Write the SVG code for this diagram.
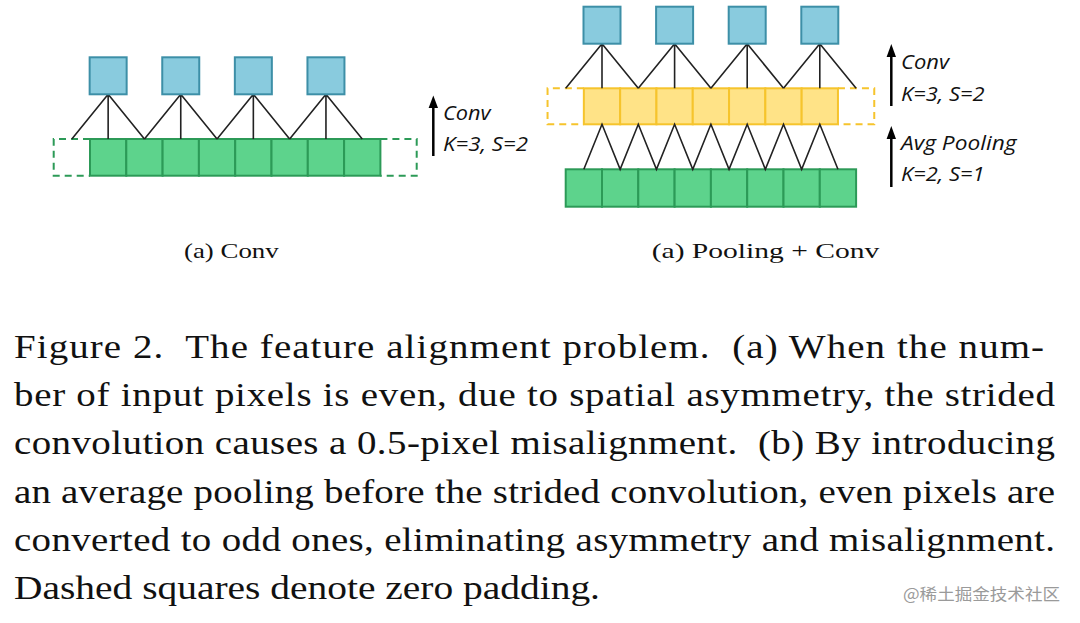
<svg xmlns="http://www.w3.org/2000/svg" width="1080" height="623" viewBox="0 0 1080 623">
<style>
.blue{fill:#89CBDE;stroke:#3D8FA7;stroke-width:2}
.green{fill:#5DD38C;stroke:#2C9A57;stroke-width:2}
.yellow{fill:#FFE387;stroke:#F6C42C;stroke-width:2}
.gdash{fill:none;stroke:#2C9A57;stroke-width:2;stroke-dasharray:7 5}
.ydash{fill:none;stroke:#F6C42C;stroke-width:2;stroke-dasharray:7 5}
.ln{fill:none;stroke:#222;stroke-width:1.6}
.arr{stroke:#000;stroke-width:2.5}
.head{fill:#000}
.lab{font-family:"Open Sans","Liberation Sans",sans-serif;font-style:italic;font-size:20px;fill:#111}
.cap{font-family:"Liberation Serif","Times New Roman",serif;font-size:22px;fill:#111}
.body{font-family:"Liberation Serif","Times New Roman",serif;font-size:33px;fill:#111;white-space:pre}
.wm{font-family:"Noto Sans CJK SC","Liberation Sans",sans-serif;font-size:16px;fill:#9a9a9a}
</style>
<rect width="1080" height="623" fill="#fff"/>

<!-- Left diagram: Conv -->
<g id="left-padding">
<path class="gdash" d="M90,139 H53.7 V175.7 H90"/>
<path class="gdash" d="M380.4,139 H416.7 V175.7 H380.4"/>
</g>
<g id="left-input">
<rect class="green" x="90" y="139" width="36.3" height="36.7"/>
<rect class="green" x="126.3" y="139" width="36.3" height="36.7"/>
<rect class="green" x="162.6" y="139" width="36.3" height="36.7"/>
<rect class="green" x="198.9" y="139" width="36.3" height="36.7"/>
<rect class="green" x="235.2" y="139" width="36.3" height="36.7"/>
<rect class="green" x="271.5" y="139" width="36.3" height="36.7"/>
<rect class="green" x="307.8" y="139" width="36.3" height="36.7"/>
<rect class="green" x="344.1" y="139" width="36.3" height="36.7"/>
</g>
<g id="left-connectors">
<path class="ln" d="M71.85,139 L108.15,94.3 L144.45,139 M108.15,94.3 V139"/>
<path class="ln" d="M144.45,139 L180.75,94.3 L217.05,139 M180.75,94.3 V139"/>
<path class="ln" d="M217.05,139 L253.35,94.3 L289.65,139 M253.35,94.3 V139"/>
<path class="ln" d="M289.65,139 L325.95,94.3 L362.25,139 M325.95,94.3 V139"/>
</g>
<g id="left-output">
<rect class="blue" x="89.65" y="57.3" width="37" height="37"/>
<rect class="blue" x="162.25" y="57.3" width="37" height="37"/>
<rect class="blue" x="234.85" y="57.3" width="37" height="37"/>
<rect class="blue" x="307.45" y="57.3" width="37" height="37"/>
</g>
<g id="left-label">
<line class="arr" x1="433.3" y1="156" x2="433.3" y2="106"/>
<polygon class="head" points="433.3,95.5 428.6,108 438,108"/>
<text class="lab" x="443" y="120" textLength="47.5" lengthAdjust="spacingAndGlyphs">Conv</text>
<text class="lab" x="443" y="151" textLength="85" lengthAdjust="spacingAndGlyphs">K=3, S=2</text>
</g>

<!-- Right diagram: Pooling + Conv -->
<g id="right-input">
<rect class="green" x="565.7" y="169.3" width="36.3" height="37.4"/>
<rect class="green" x="602" y="169.3" width="36.3" height="37.4"/>
<rect class="green" x="638.3" y="169.3" width="36.3" height="37.4"/>
<rect class="green" x="674.6" y="169.3" width="36.3" height="37.4"/>
<rect class="green" x="710.9" y="169.3" width="36.3" height="37.4"/>
<rect class="green" x="747.2" y="169.3" width="36.3" height="37.4"/>
<rect class="green" x="783.5" y="169.3" width="36.3" height="37.4"/>
<rect class="green" x="819.8" y="169.3" width="36.3" height="37.4"/>
</g>
<g id="right-padding">
<path class="ydash" d="M583.85,88.3 H547.55 V124.3 H583.85"/>
<path class="ydash" d="M837.95,88.3 H874.25 V124.3 H837.95"/>
</g>
<g id="right-pooled">
<rect class="yellow" x="583.85" y="88.3" width="36.3" height="36"/>
<rect class="yellow" x="620.15" y="88.3" width="36.3" height="36"/>
<rect class="yellow" x="656.45" y="88.3" width="36.3" height="36"/>
<rect class="yellow" x="692.75" y="88.3" width="36.3" height="36"/>
<rect class="yellow" x="729.05" y="88.3" width="36.3" height="36"/>
<rect class="yellow" x="765.35" y="88.3" width="36.3" height="36"/>
<rect class="yellow" x="801.65" y="88.3" width="36.3" height="36"/>
</g>
<g id="right-connectors">
<polyline class="ln" points="583.85,169.3 602,124.3 620.15,169.3 638.3,124.3 656.45,169.3 674.6,124.3 692.75,169.3 710.9,124.3 729.05,169.3 747.2,124.3 765.35,169.3 783.5,124.3 801.65,169.3 819.8,124.3 837.95,169.3"/>
<path class="ln" d="M565.7,88.3 L602,43.7 L638.3,88.3 M602,43.7 V88.3"/>
<path class="ln" d="M638.3,88.3 L674.6,43.7 L710.9,88.3 M674.6,43.7 V88.3"/>
<path class="ln" d="M710.9,88.3 L747.2,43.7 L783.5,88.3 M747.2,43.7 V88.3"/>
<path class="ln" d="M783.5,88.3 L819.8,43.7 L856.1,88.3 M819.8,43.7 V88.3"/>
</g>
<g id="right-output">
<rect class="blue" x="583.5" y="6.7" width="37" height="37"/>
<rect class="blue" x="656.1" y="6.7" width="37" height="37"/>
<rect class="blue" x="728.7" y="6.7" width="37" height="37"/>
<rect class="blue" x="801.3" y="6.7" width="37" height="37"/>
</g>
<g id="right-labels">
<line class="arr" x1="891.3" y1="106" x2="891.3" y2="55"/>
<polygon class="head" points="891.3,44 886.6,57 896,57"/>
<text class="lab" x="901" y="69" textLength="48" lengthAdjust="spacingAndGlyphs">Conv</text>
<text class="lab" x="901" y="101" textLength="83.5" lengthAdjust="spacingAndGlyphs">K=3, S=2</text>
<line class="arr" x1="891.3" y1="187" x2="891.3" y2="137"/>
<polygon class="head" points="891.3,126 886.6,139 896,139"/>
<text class="lab" x="901" y="150" textLength="115.5" lengthAdjust="spacingAndGlyphs">Avg Pooling</text>
<text class="lab" x="901" y="181" textLength="83.5" lengthAdjust="spacingAndGlyphs">K=2, S=1</text>
</g>

<g id="captions">
<text class="cap" x="184" y="258" textLength="94.7" lengthAdjust="spacingAndGlyphs">(a) Conv</text>
<text class="cap" x="651.7" y="258" textLength="227.6" lengthAdjust="spacingAndGlyphs">(a) Pooling + Conv</text>
</g>

<g id="figure-text" transform="scale(1.18 1)">
<text class="body" x="11.86" y="358" textLength="872.9" lengthAdjust="spacing">Figure 2.  The feature alignment problem.  (a) When the num-</text>
<text class="body" x="11.86" y="406" textLength="882.2" lengthAdjust="spacing">ber of input pixels is even, due to spatial asymmetry, the strided</text>
<text class="body" x="11.86" y="454.5" textLength="882.2" lengthAdjust="spacing">convolution causes a 0.5-pixel misalignment.  (b) By introducing</text>
<text class="body" x="11.86" y="502.7" textLength="882.2" lengthAdjust="spacing">an average pooling before the strided convolution, even pixels are</text>
<text class="body" x="11.86" y="551" textLength="882.2" lengthAdjust="spacing">converted to odd ones, eliminating asymmetry and misalignment.</text>
<text class="body" x="11.86" y="599" textLength="496.6" lengthAdjust="spacingAndGlyphs">Dashed squares denote zero padding.</text>
</g>
<text class="wm" x="903" y="600" textLength="157" lengthAdjust="spacingAndGlyphs">@稀土掘金技术社区</text>
</svg>
